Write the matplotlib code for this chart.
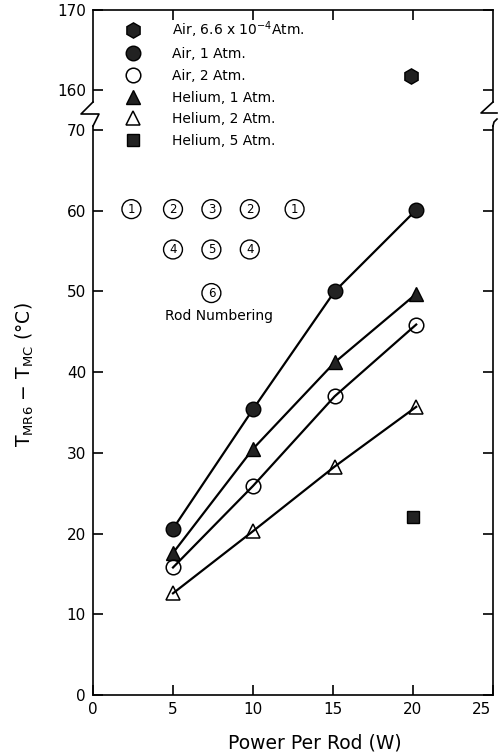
import numpy as np
import matplotlib
matplotlib.use('Agg')
import matplotlib.pyplot as plt
import matplotlib.transforms as mtransforms
from matplotlib.lines import Line2D

plt.rcParams['font.family'] = ['DejaVu Sans']
plt.rcParams['mathtext.fontset'] = 'dejavusans'

# power per rod (W) and temperature rise T_MR6 - T_MC (°C)
power = [5.0, 10.0, 15.1, 20.2]
air_1atm = [20.6, 35.4, 50.0, 60.1]
air_2atm = [15.8, 25.9, 37.0, 45.9]
he_1atm = [17.6, 30.5, 41.2, 49.7]
he_2atm = [12.6, 20.3, 28.3, 35.7]
he_5atm_x = [20.0]
he_5atm = [22.1]
air_vac_x = [19.9]
air_vac = [161.8]

labels = ['Air, 6.6 x 10$^{-4}$Atm.', 'Air, 1 Atm.', 'Air, 2 Atm.',
          'Helium, 1 Atm.', 'Helium, 2 Atm.', 'Helium, 5 Atm.']

rod_numbers = ['1', '2', '3', '2', '1', '4', '5', '4', '6']
rod_x = [2.4, 5.0, 7.4, 9.8, 12.6, 5.0, 7.4, 9.8, 7.4]
rod_y = [60.2, 60.2, 60.2, 60.2, 60.2, 55.2, 55.2, 55.2, 49.8]

W, H = 499, 754
fig = plt.figure(figsize=(W / 100, H / 100), dpi=100)


def px(x, y):
    return x / W, 1 - y / H


# lower panel 0..70.5, upper panel 158.5..170, both 8 px per degree
x0, x1 = 93, 493
ax = fig.add_axes([x0 / W, (H - 695) / H, (x1 - x0) / W, (695 - 126) / H])
axt = fig.add_axes([x0 / W, (H - 102) / H, (x1 - x0) / W, (102 - 10) / H])

for a in (ax, axt):
    a.set_xlim(0, 25)
    for s in a.spines.values():
        s.set_linewidth(1.2)
ax.set_ylim(0, 70.5)
axt.set_ylim(158.5, 170)
ax.spines['top'].set_visible(False)
axt.spines['bottom'].set_visible(False)

ms = 10.5
ax.plot(power, air_1atm, color='k', lw=1.6, marker='o', ms=ms, mfc='#222222', mec='k')
ax.plot(power, he_1atm, color='k', lw=1.6, marker='^', ms=ms, mfc='#222222', mec='k')
ax.plot(power, air_2atm, color='k', lw=1.6, marker='o', ms=ms, mfc='none', mec='k', mew=1.1)
ax.plot(power, he_2atm, color='k', lw=1.6, marker='^', ms=ms, mfc='none', mec='k', mew=1.1)
ax.plot(he_5atm_x, he_5atm, ls='none', marker='s', ms=8.5, mfc='#222222', mec='k')
axt.plot(air_vac_x, air_vac, ls='none', marker='h', ms=11, mfc='#222222', mec='k')

# ticks
ax.set_xticks([0, 5, 10, 15, 20, 25])
ax.set_xticklabels(['0', '5', '10', '15', '20', '25'])
ax.set_yticks(np.arange(0, 71, 10))
ax.tick_params(axis='both', direction='in', length=7.5, width=1.2, labelsize=11,
               right=True, top=False)
ax.tick_params(axis='x', pad=5)
ax.tick_params(axis='y', pad=5)

# pull the last x label in so it stays on the canvas
shift = mtransforms.ScaledTranslation(-8 / 72, 0, fig.dpi_scale_trans)
last = ax.get_xticklabels()[-1]
last.set_transform(last.get_transform() + shift)

axt.set_yticks([160, 170])
axt.set_xticks([5, 10, 15, 20])
axt.tick_params(axis='both', direction='in', length=7.5, width=1.2, labelsize=11,
                right=True, top=True, bottom=False, labelbottom=False)
axt.tick_params(axis='y', pad=5)

# rod layout sketch
for n, rx, ry in zip(rod_numbers, rod_x, rod_y):
    ax.text(rx, ry, n, fontsize=8.5, ha='center', va='center',
            bbox=dict(boxstyle='circle,pad=0.25', fc='white', ec='k', lw=1.0))
ax.text(7.9, 46.9, 'Rod Numbering', fontsize=10, ha='center', va='center')

# axis break marks
brk = dict(color='k', lw=1.2, transform=fig.transFigure, clip_on=False)
pts = [px(93, 102), px(81, 114), px(99, 114), px(93, 126)]
fig.add_artist(Line2D([p[0] for p in pts], [p[1] for p in pts], **brk))
pts = [px(493, 102), px(481, 113), px(497, 113)]
fig.add_artist(Line2D([p[0] for p in pts], [p[1] for p in pts], **brk))
pts = [px(497, 119), px(494, 122), px(493, 126)]
fig.add_artist(Line2D([p[0] for p in pts], [p[1] for p in pts], **brk))

# legend
handles = [
    Line2D([], [], ls='none', marker='h', ms=11, mfc='#222222', mec='k'),
    Line2D([], [], ls='none', marker='o', ms=ms, mfc='#222222', mec='k'),
    Line2D([], [], ls='none', marker='o', ms=ms, mfc='none', mec='k', mew=1.1),
    Line2D([], [], ls='none', marker='^', ms=ms, mfc='#222222', mec='k'),
    Line2D([], [], ls='none', marker='^', ms=ms, mfc='none', mec='k', mew=1.1),
    Line2D([], [], ls='none', marker='s', ms=8.5, mfc='#222222', mec='k'),
]
fig.legend(handles, labels, loc='upper left', bbox_to_anchor=px(126, 19),
           frameon=False, fontsize=10, handlelength=1.0, handletextpad=2.3,
           labelspacing=0.55, borderpad=0, borderaxespad=0)

fig.text(*px(315, 743), 'Power Per Rod (W)', fontsize=13.5, ha='center', va='center')
fig.text(*px(25, 375), r'T$_{\rm MR6}$ $-$ T$_{\rm MC}$ (°C)', fontsize=13.5,
         rotation=90, ha='center', va='center')

fig.savefig('out.png', dpi=100)
